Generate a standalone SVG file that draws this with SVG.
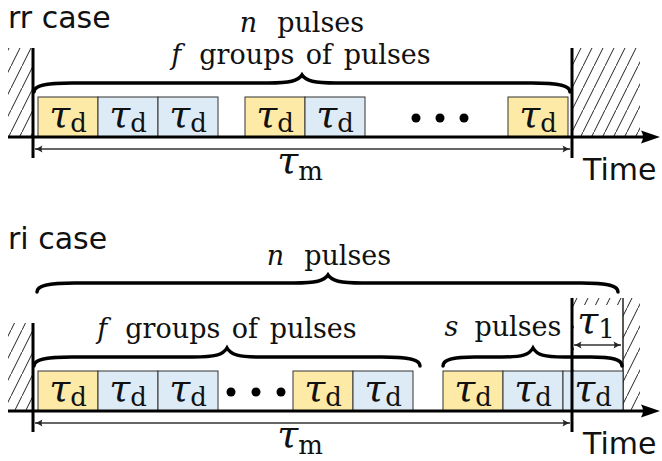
<svg xmlns="http://www.w3.org/2000/svg" width="662" height="461" viewBox="0 0 662 461">
<defs>
<style>
.case{font-family:'DejaVu Sans',sans-serif;font-size:30px;fill:#111}
.m{font-family:'DejaVu Serif',serif;font-size:27px;fill:#111}
.it{font-style:italic}
.tau{font-family:'DejaVu Serif',serif;font-style:italic;font-size:38px;fill:#111}
.sub{font-family:'DejaVu Serif',serif;font-size:26px;fill:#111}
.yb{fill:#fdeaa7;stroke:#333;stroke-width:1}
.bb{fill:#ddebf7;stroke:#333;stroke-width:1}
.axis{stroke:#000;stroke-width:3;fill:none}
.vl{stroke:#000;stroke-width:3;fill:none}
.brace{stroke:#000;stroke-width:3.5;fill:none;stroke-linecap:round}
.dim{stroke:#333;stroke-width:1.5;fill:none}
.hatchfill{fill:url(#hatch)}
</style>
<pattern id="hatch" patternUnits="userSpaceOnUse" width="11" height="22">
<path d="M-0.5,23 L11.5,-1" stroke="#222" stroke-width="1" fill="none"/>
</pattern>
<marker id="ah" viewBox="-8 -4 9 8" refX="0" refY="0" markerWidth="9" markerHeight="8" markerUnits="userSpaceOnUse" orient="auto-start-reverse">
<path d="M-7.5,-3.5 Q-3,-0.8 0,0 Q-3,0.8 -7.5,3.5 Q-5.5,0 -7.5,-3.5Z" fill="#222"/>
</marker>
</defs>

<!-- ===== rr case ===== -->
<text class="case" x="8" y="28">rr case</text>

<g id="rr-walls">
<rect class="hatchfill" x="8" y="48" width="25" height="89"/>
<rect class="hatchfill" x="572" y="48" width="68" height="89"/>
</g>

<g id="rr-p1"><rect class="yb" x="38" y="97" width="60" height="40"/><text x="68" y="127" text-anchor="middle"><tspan class="tau">τ</tspan><tspan class="sub" dy="5">d</tspan></text></g>
<g id="rr-p2"><rect class="bb" x="98" y="97" width="60" height="40"/><text x="128" y="127" text-anchor="middle"><tspan class="tau">τ</tspan><tspan class="sub" dy="5">d</tspan></text></g>
<g id="rr-p3"><rect class="bb" x="158" y="97" width="60" height="40"/><text x="188" y="127" text-anchor="middle"><tspan class="tau">τ</tspan><tspan class="sub" dy="5">d</tspan></text></g>
<g id="rr-p4"><rect class="yb" x="245" y="97" width="60" height="40"/><text x="275" y="127" text-anchor="middle"><tspan class="tau">τ</tspan><tspan class="sub" dy="5">d</tspan></text></g>
<g id="rr-p5"><rect class="bb" x="305" y="97" width="60" height="40"/><text x="335" y="127" text-anchor="middle"><tspan class="tau">τ</tspan><tspan class="sub" dy="5">d</tspan></text></g>
<g id="rr-dots"><circle cx="416" cy="118" r="4.5"/><circle cx="440" cy="118" r="4.5"/><circle cx="464" cy="118" r="4.5"/></g>
<g id="rr-p6"><rect class="yb" x="508" y="97" width="60" height="40"/><text x="538" y="127" text-anchor="middle"><tspan class="tau">τ</tspan><tspan class="sub" dy="5">d</tspan></text></g>

<g id="rr-connectors">
<path class="axis" d="M8,137 H648"/>
<path d="M660,137 L641,130.5 Q645,137 641,143.5 Z" fill="#000"/>
<path class="vl" d="M33,48 V158"/>
<path class="vl" d="M572,48 V158"/>
<path class="dim" d="M35,149 H570" marker-start="url(#ah)" marker-end="url(#ah)"/>
<path class="brace" d="M34,92 C34,86 44,83 72,83 L268,83 C290,83 298,81 302,75 C306,81 314,83 336,83 L532,83 C560,83 570,86 570,92"/>
</g>

<g id="rr-labels">
<text class="m" x="302" y="32" text-anchor="middle"><tspan class="it">n</tspan><tspan dx="20">pulses</tspan></text>
<text class="m" x="301" y="64" text-anchor="middle" word-spacing="3"><tspan class="it">f</tspan><tspan dx="18">groups of pulses</tspan></text>
<text x="300" y="173" text-anchor="middle"><tspan class="tau">τ</tspan><tspan class="sub" dy="7">m</tspan></text>
<text class="case" x="583" y="180">Time</text>
</g>

<!-- ===== ri case ===== -->
<text class="case" x="8" y="249">ri case</text>

<g id="ri-walls">
<rect class="hatchfill" x="8" y="323" width="25" height="88"/>
<rect class="hatchfill" x="572" y="298" width="68" height="113"/>
<rect x="574" y="305" width="49" height="106" fill="#fff"/>
<path d="M623,298 V411" stroke="#222" stroke-width="1.5"/>
</g>

<g id="ri-p1"><rect class="yb" x="38" y="371" width="60" height="40"/><text x="68" y="401" text-anchor="middle"><tspan class="tau">τ</tspan><tspan class="sub" dy="5">d</tspan></text></g>
<g id="ri-p2"><rect class="bb" x="98" y="371" width="60" height="40"/><text x="128" y="401" text-anchor="middle"><tspan class="tau">τ</tspan><tspan class="sub" dy="5">d</tspan></text></g>
<g id="ri-p3"><rect class="bb" x="158" y="371" width="60" height="40"/><text x="188" y="401" text-anchor="middle"><tspan class="tau">τ</tspan><tspan class="sub" dy="5">d</tspan></text></g>
<g id="ri-dots"><circle cx="231" cy="392" r="4.5"/><circle cx="256" cy="392" r="4.5"/><circle cx="281" cy="392" r="4.5"/></g>
<g id="ri-p4"><rect class="yb" x="293" y="371" width="60" height="40"/><text x="323" y="401" text-anchor="middle"><tspan class="tau">τ</tspan><tspan class="sub" dy="5">d</tspan></text></g>
<g id="ri-p5"><rect class="bb" x="353" y="371" width="60" height="40"/><text x="383" y="401" text-anchor="middle"><tspan class="tau">τ</tspan><tspan class="sub" dy="5">d</tspan></text></g>
<g id="ri-p6"><rect class="yb" x="443" y="371" width="60" height="40"/><text x="473" y="401" text-anchor="middle"><tspan class="tau">τ</tspan><tspan class="sub" dy="5">d</tspan></text></g>
<g id="ri-p7"><rect class="bb" x="503" y="371" width="60" height="40"/><text x="533" y="401" text-anchor="middle"><tspan class="tau">τ</tspan><tspan class="sub" dy="5">d</tspan></text></g>
<g id="ri-p8"><rect class="bb" x="563" y="371" width="60" height="40"/><text x="593" y="401" text-anchor="middle"><tspan class="tau">τ</tspan><tspan class="sub" dy="5">d</tspan></text></g>

<g id="ri-connectors">
<path class="axis" d="M8,411 H648"/>
<path d="M660,411 L641,404.5 Q645,411 641,417.5 Z" fill="#000"/>
<path class="vl" d="M33,323 V432"/>
<path class="vl" d="M572,298 V432"/>
<path class="dim" d="M35,423 H570" marker-start="url(#ah)" marker-end="url(#ah)"/>
<path class="dim" d="M574,345 H621" marker-start="url(#ah)" marker-end="url(#ah)"/>
<path class="brace" d="M37,292 C37,286 47,283 75,283 L294,283 C316,283 324,281 328,275 C332,281 340,283 362,283 L581,283 C609,283 618,286 618,292"/>
<path class="brace" d="M34,366 C34,360 44,357 72,357 L193,357 C215,357 223,355 227,348 C231,355 239,357 261,357 L382,357 C410,357 420,360 420,366"/>
<path class="brace" d="M443,366 C443,360 452,357 475,357 L502,357 C522,357 529,355 533,348 C537,355 544,357 564,357 L591,357 C614,357 622,360 622,366"/>
</g>

<g id="ri-labels">
<text class="m" x="329" y="265" text-anchor="middle"><tspan class="it">n</tspan><tspan dx="20">pulses</tspan></text>
<text class="m" x="227" y="338" text-anchor="middle" word-spacing="3"><tspan class="it">f</tspan><tspan dx="18">groups of pulses</tspan></text>
<text class="m" x="503" y="336" text-anchor="middle"><tspan class="it">s</tspan><tspan dx="16">pulses</tspan></text>
<text x="596" y="333" text-anchor="middle"><tspan class="tau">τ</tspan><tspan class="sub" dy="5">1</tspan></text>
<text x="300" y="447" text-anchor="middle"><tspan class="tau">τ</tspan><tspan class="sub" dy="7">m</tspan></text>
<text class="case" x="583" y="454">Time</text>
</g>
</svg>
